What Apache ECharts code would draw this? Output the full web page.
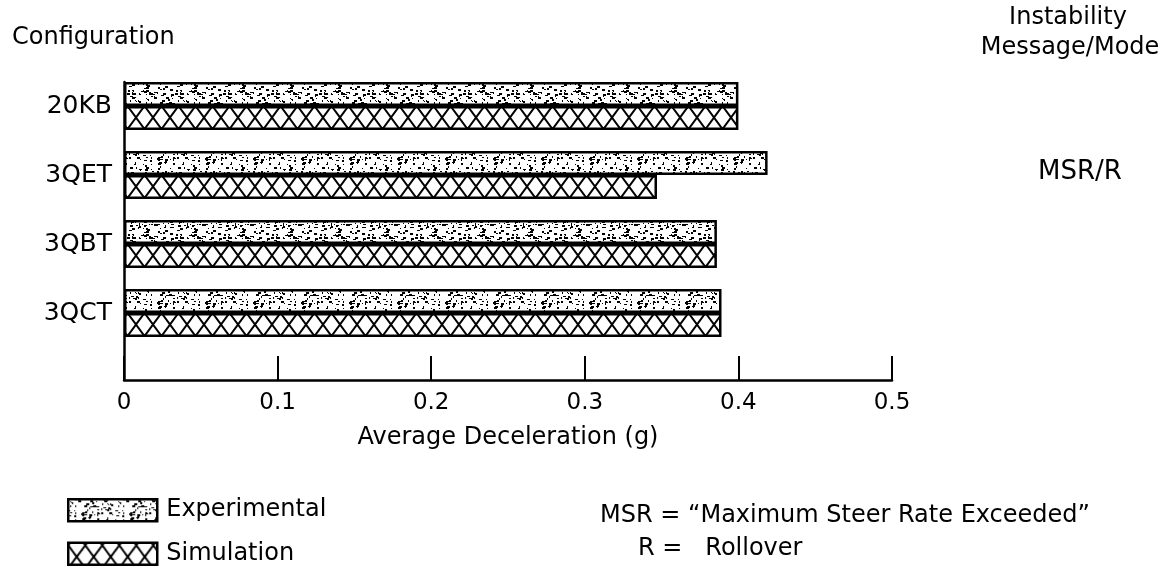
<!DOCTYPE html>
<html><head><meta charset="utf-8">
<script src="https://cdn.jsdelivr.net/npm/echarts@6/dist/echarts.min.js"></script>
<style>html,body{margin:0;padding:0;background:#fff}#c{width:1167px;height:573px}</style>
</head><body><div id="c"></div>
<script>
// ---- data ----
const categories = ['20KB', '3QET', '3QBT', '3QCT'];
const experimental = [0.400, 0.419, 0.386, 0.389];
const simulation = [0.400, 0.347, 0.386, 0.389];
const seriesNames = ['Experimental', 'Simulation'];
const instabilityLabels = ['', 'MSR/R', '', ''];
const xMin = 0, xMax = 0.5, xStep = 0.1;

const FONT = '"DejaVu Sans", sans-serif';

// ---- textures (decoration only) ----
function makeStipple() {
  const n = 48;
  const c = document.createElement('canvas'); c.width = n; c.height = n;
  const g = c.getContext('2d');
  g.fillStyle = '#fff'; g.fillRect(0, 0, n, n);
  g.fillStyle = '#000';
  let s = 2463534242;
  const next = () => { s ^= (s << 13); s >>>= 0; s ^= (s >>> 17); s ^= (s << 5); s >>>= 0; return s / 4294967296; };
  for (let i = 0; i < 170; i++) {
    const x = Math.floor(next() * n), y = Math.floor(next() * n);
    const w = 1 + Math.floor(next() * 3), h = 1 + Math.floor(next() * 2);
    g.fillRect(x, y, w, h);
  }
  return c;
}
function makeHatch() {
  const w = 17, h = 23, oy = 14;
  const c = document.createElement('canvas'); c.width = w; c.height = h;
  const g = c.getContext('2d');
  g.fillStyle = '#fff'; g.fillRect(0, 0, w, h);
  g.strokeStyle = '#000'; g.lineWidth = 2;
  for (const ox of [-w, 0, w]) {
    for (const o of [oy - 2 * h, oy - h, oy, oy + h]) {
      g.beginPath();
      g.moveTo(ox + w / 2, o); g.lineTo(ox + w, o + h / 2);
      g.lineTo(ox + w / 2, o + h); g.lineTo(ox, o + h / 2); g.closePath();
      g.stroke();
    }
  }
  return c;
}
const stipple = { image: makeStipple(), repeat: 'repeat' };
const hatch = { image: makeHatch(), repeat: 'repeat' };

const chart = echarts.init(document.getElementById('c'), null, { renderer: 'canvas' });

const txt = (text, x, y, size, align) => ({
  type: 'text', x: x, y: y, silent: true,
  style: { text: text, font: size + 'px ' + FONT, fill: '#000', align: align, verticalAlign: 'middle',
           textAlign: align, textVerticalAlign: 'middle' }
});

chart.setOption({
  animation: false,
  backgroundColor: '#fff',
  textStyle: { fontFamily: FONT, color: '#000' },
  grid: [
    { left: 124, right: 275, top: 71.5, height: 276, containLabel: false, outerBoundsMode: 'none' },
    { left: 124, right: 275, top: 82, bottom: 193, containLabel: false, outerBoundsMode: 'none' }
  ],
  xAxis: [
    { type: 'value', gridIndex: 0, min: xMin, max: xMax, show: false, splitLine: { show: false } },
    {
      type: 'value', gridIndex: 1, min: xMin, max: xMax, interval: xStep,
      name: 'Average Deceleration (g)', nameLocation: 'middle', nameGap: 46,
      nameTextStyle: { fontFamily: FONT, fontSize: 24, color: '#000' },
      axisLine: { show: true, lineStyle: { color: '#000', width: 2.5 } },
      axisTick: { show: true, inside: true, length: 24, lineStyle: { color: '#000', width: 2 } },
      axisLabel: { show: true, margin: 12, fontFamily: FONT, fontSize: 23, color: '#000' },
      splitLine: { show: false }
    }
  ],
  yAxis: [
    {
      type: 'category', gridIndex: 0, data: categories, inverse: true,
      axisLine: { show: false }, axisTick: { show: false }, splitLine: { show: false },
      axisLabel: { margin: 12, fontFamily: FONT, fontSize: 25, color: '#000' }
    },
    {
      type: 'value', gridIndex: 1, min: 0, max: 1,
      axisLine: { show: true, lineStyle: { color: '#000', width: 2.5 } },
      axisTick: { show: false }, axisLabel: { show: false }, splitLine: { show: false }
    }
  ],
  legend: {
    orient: 'vertical', left: 67, top: 498, padding: 0,
    itemWidth: 89, itemHeight: 22, itemGap: 19, icon: 'rect',
    itemStyle: { borderColor: '#000', borderWidth: 2.5 },
    textStyle: { fontFamily: FONT, fontSize: 24, color: '#000', padding: [0, 0, 0, 4] },
    data: seriesNames
  },
  series: [
    {
      name: seriesNames[0], type: 'bar', xAxisIndex: 0, yAxisIndex: 0,
      data: experimental, barWidth: 24, barGap: '0%', silent: true,
      itemStyle: { color: stipple, borderColor: '#000', borderWidth: 2.5 }
    },
    {
      name: seriesNames[1], type: 'bar', xAxisIndex: 0, yAxisIndex: 0,
      data: simulation, barWidth: 24, barGap: '0%', silent: true,
      itemStyle: { color: hatch, borderColor: '#000', borderWidth: 2.5 }
    }
  ],
  graphic: [
    txt('Configuration', 12, 38, 24, 'left'),
    txt('Instability', 1068, 18, 24, 'center'),
    txt('Message/Mode', 1070, 48, 24, 'center'),
    txt(instabilityLabels[1], 1080, 172, 26, 'center'),
    txt('MSR = \u201CMaximum Steer Rate Exceeded\u201D', 600, 516, 24, 'left'),
    txt('R =   Rollover', 638, 549, 24, 'left')
  ]
});
</script></body></html>
